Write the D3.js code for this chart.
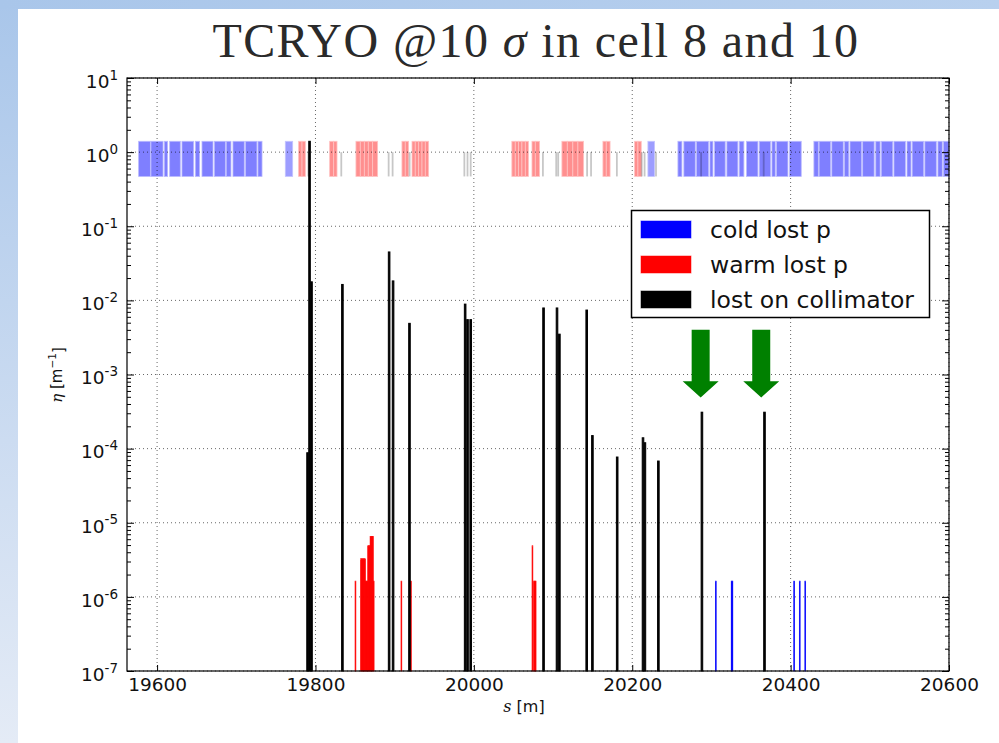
<!DOCTYPE html>
<html>
<head>
<meta charset="utf-8">
<script src="https://cdn.jsdelivr.net/npm/d3@7"></script>
<style>
  body { margin: 0; background: #fff; }
  svg { display: block; }
</style>
</head>
<body>
<svg id="chart" width="999" height="743"></svg>
<script>
// ---- lattice layout (element extents along s, metres) ----
const coldElements = [
  [19576.7,19591.5],[19592.3,19607.5],[19609.1,19613.3],[19615.9,19629.3],[19631.4,19646.2],[19648.3,19653.7],
  [19656.7,19670.6],[19672.3,19686.2],[19687.4,19693.3],[19695.8,19710.1],[19711.8,19726.1],[19727.4,19732.5],
  [20257.7,20262.7],[20265.2,20279.6],[20281.2,20296.4],[20298.1,20301.9],[20304,20317.4],[20319.5,20333.4],
  [20335.1,20341],[20344.4,20358.7],[20360.4,20374.7],[20376.4,20380.6],[20382.2,20396.6],[20398.7,20413.4],
  [20429.4,20435],[20436,20450.5],[20452,20466.5],[20468,20473.5],[20475,20489.5],[20491,20505.5],
  [20507.5,20513],[20514.5,20529],[20530.5,20545],[20547,20552],[20553.5,20568],[20569.5,20584],
  [20586,20591.5],[20593,20600]
];
const coldShortElements = [[19761.9,19771.2],[20219.8,20228.2]];
const warmElements = [
  [19778.7,19783],[19783,19787.2],
  [19817.9,19823],[19823,19827.2],
  [19851.1,19856.6],[19856.6,19861.7],[19861.7,19866.7],[19866.7,19872.2],[19872.2,19878.5],
  [19909.2,19913.4],[19913.4,19917.6],
  [19921.9,19926],[19926,19930.3],[19930.3,19934.5],[19934.5,19938.7],[19938.7,19942.9],
  [20048,20052.3],[20052.3,20056.5],[20056.5,20060.7],[20060.7,20065],[20065,20069],
  [20073.4,20077.6],[20077.6,20083],
  [20111.2,20118],[20118,20125],[20125,20131.4],[20131.4,20138.6],
  [20163,20167.2],[20167.2,20172],
  [20203,20207.2],[20207.2,20211.4]
];
const collimatorS = [19791, 19832.6, 19892.4, 19897.4, 19918.9, 19988, 19992, 19996,
  20087.2, 20104, 20106.5, 20143, 20148, 20180.6, 20212, 20215.6, 20230, 20287, 20366];

// ---- loss maps: position s [m] and local inefficiency eta [1/m] ----
const lossCollS   = [19789, 19791.5, 19794, 19833, 19892, 19897, 19917.7, 19988, 19991, 19995,
  20087, 20104, 20107, 20141.5, 20148.7, 20180, 20212.6, 20215, 20232, 20287, 20366];
const lossCollEta = [8.8e-5, 1.4, 1.78e-2, 1.64e-2, 4.5e-2, 1.83e-2, 4.9e-3, 8.9e-3, 5.5e-3, 5.5e-3,
  7.9e-3, 7.9e-3, 3.5e-3, 7.4e-3, 1.5e-4, 7.7e-5, 1.4e-4, 1.2e-4, 6.8e-5, 3.1e-4, 3.1e-4];

const lossWarmS   = [19850, 19857, 19858, 19859, 19860, 19861, 19862, 19863, 19864, 19865, 19866,
  19867, 19868, 19869, 19870, 19871, 19872, 19873, 19908, 19920, 20073.5, 20075.5, 20076.5, 20077.5];
const lossWarmEta = [1.63e-6, 3.26e-6, 3.26e-6, 3.26e-6, 3.26e-6, 3.26e-6, 3.26e-6, 1.63e-6, 1.63e-6,
  1.63e-6, 4.89e-6, 4.89e-6, 4.89e-6, 6.52e-6, 6.52e-6, 6.52e-6, 6.52e-6, 1.63e-6, 1.63e-6, 1.63e-6,
  4.89e-6, 1.63e-6, 1.63e-6, 1.63e-6];

const lossColdS   = [20305, 20325, 20326, 20404, 20411, 20418];
const lossColdEta = [1.63e-6, 1.63e-6, 1.63e-6, 1.63e-6, 1.63e-6, 1.63e-6];

// markers pointing at the TCRYO collimators
const arrowS = [20286.4, 20362.9];
const arrowTailEta = 4.0e-3, arrowHeadEta = 8.1e-4, arrowTipEta = 4.9e-4;

// ---- axes ----
const xDomain = [19562, 20600];
const xTicks = [19600, 19800, 20000, 20200, 20400, 20600];
const yExponents = [-7, -6, -5, -4, -3, -2, -1, 0, 1];
const legendLabels = ["cold lost p", "warm lost p", "lost on collimator"];
const titleParts = ["TCRYO @10 ", "σ", " in cell 8 and 10"];

// ---- geometry ----
const L = 127, R = 949, T = 78, B = 671;
const bandLow = 0.47, bandHigh = 1.4, collMarkHigh = 1.0;
const collBinW = 2.0, pBinW = 1.0;

const svg = d3.select("#chart");
const x = d3.scaleLinear().domain(xDomain).range([L, R]);
const y = d3.scaleLog().domain([1e-7, 10]).range([B, T]);

// page frame
const defs = svg.append("defs");
const g1 = defs.append("linearGradient").attr("id", "sideGrad").attr("x1", 0).attr("x2", 0).attr("y1", 0).attr("y2", 1);
g1.append("stop").attr("offset", "0").attr("stop-color", "#a9c6ea");
g1.append("stop").attr("offset", "1").attr("stop-color", "#e4ebf6");
const g2 = defs.append("linearGradient").attr("id", "topGrad").attr("x1", 0).attr("x2", 1).attr("y1", 0).attr("y2", 0);
g2.append("stop").attr("offset", "0").attr("stop-color", "#a9c6ea");
g2.append("stop").attr("offset", "1").attr("stop-color", "#b8d0ee");
svg.append("rect").attr("x", 0).attr("y", 0).attr("width", 999).attr("height", 743).attr("fill", "#fff");
svg.append("rect").attr("x", 0).attr("y", 0).attr("width", 18).attr("height", 743).attr("fill", "url(#sideGrad)");
svg.append("rect").attr("x", 0).attr("y", 0).attr("width", 999).attr("height", 9).attr("fill", "url(#topGrad)");

// title
const title = svg.append("text").attr("x", 536).attr("y", 57).attr("text-anchor", "middle")
  .attr("font-family", "Liberation Serif, serif").attr("font-size", 48).attr("letter-spacing", 1.4)
  .attr("fill", "#2a2a2a");
title.append("tspan").text(titleParts[0]);
title.append("tspan").attr("font-style", "italic").text(titleParts[1]);
title.append("tspan").text(titleParts[2]);

const plot = svg.append("g");
plot.append("rect").attr("x", L).attr("y", T).attr("width", R - L).attr("height", B - T).attr("fill", "#fff");

// lattice band
const band = plot.append("g");
band.selectAll("rect.cold").data(coldElements).join("rect")
  .attr("x", d => x(d[0])).attr("width", d => x(d[1]) - x(d[0]))
  .attr("y", y(bandHigh)).attr("height", y(bandLow) - y(bandHigh))
  .attr("fill", "#7f7fff").attr("stroke", "#b9b9ff").attr("stroke-width", 0.8);
band.selectAll("rect.coldS").data(coldShortElements).join("rect")
  .attr("x", d => x(d[0])).attr("width", d => x(d[1]) - x(d[0]))
  .attr("y", y(bandHigh)).attr("height", y(bandLow) - y(bandHigh))
  .attr("fill", "#9d9dff").attr("stroke", "#c4c4ff").attr("stroke-width", 0.8);
band.selectAll("rect.warm").data(warmElements).join("rect")
  .attr("x", d => x(d[0])).attr("width", d => x(d[1]) - x(d[0]))
  .attr("y", y(bandHigh)).attr("height", y(bandLow) - y(bandHigh))
  .attr("fill", "#ff8f8f").attr("stroke", "#ffc2c2").attr("stroke-width", 0.8);
band.selectAll("rect.coll").data(collimatorS).join("rect")
  .attr("x", d => x(d) - 0.9).attr("width", 1.8)
  .attr("y", y(collMarkHigh)).attr("height", y(bandLow) - y(collMarkHigh))
  .attr("fill", "#000").attr("fill-opacity", 0.22);

// grid
const grid = plot.append("g").attr("stroke", "#000").attr("stroke-width", 0.8)
  .attr("stroke-dasharray", "1,3").attr("stroke-opacity", 0.75);
grid.selectAll("line.gx").data(xTicks).join("line")
  .attr("x1", d => x(d)).attr("x2", d => x(d)).attr("y1", T).attr("y2", B);
grid.selectAll("line.gy").data(yExponents).join("line")
  .attr("x1", L).attr("x2", R).attr("y1", d => y(Math.pow(10, d))).attr("y2", d => y(Math.pow(10, d)));

// loss bars
function bars(sArr, vArr, w, color, sw) {
  const data = sArr.map((s, i) => ({ s, v: vArr[i] }));
  plot.append("g").selectAll("rect").data(data).join("rect")
    .attr("x", d => x(d.s)).attr("width", d => x(d.s + w) - x(d.s))
    .attr("y", d => y(d.v)).attr("height", d => y(1e-7) - y(d.v))
    .attr("fill", color).attr("stroke", color).attr("stroke-width", sw);
}
bars(lossWarmS, lossWarmEta, pBinW, "#ff0000", 0.7);
bars(lossColdS, lossColdEta, pBinW, "#0000ff", 0.7);
bars(lossCollS, lossCollEta, collBinW, "#000000", 1);

// arrows
const shaftHalf = 9, headHalf = 18;
plot.append("g").selectAll("path").data(arrowS).join("path")
  .attr("d", s => {
    const cx = x(s), yt = y(arrowTailEta), yh = y(arrowHeadEta), yp = y(arrowTipEta);
    return `M${cx - shaftHalf},${yt}L${cx + shaftHalf},${yt}L${cx + shaftHalf},${yh}L${cx + headHalf},${yh}` +
           `L${cx},${yp}L${cx - headHalf},${yh}L${cx - shaftHalf},${yh}Z`;
  })
  .attr("fill", "#008000");

// frame
plot.append("rect").attr("x", L).attr("y", T).attr("width", R - L).attr("height", B - T)
  .attr("fill", "none").attr("stroke", "#000").attr("stroke-width", 1.2);

// axes
const tickFont = "DejaVu Sans, sans-serif";
const xAxis = svg.append("g").attr("transform", `translate(0,${B})`)
  .call(d3.axisBottom(x).tickValues(xTicks).tickSize(-6).tickPadding(7).tickFormat(d3.format("d")));
xAxis.select(".domain").remove();
xAxis.selectAll("text").attr("font-family", tickFont).attr("font-size", 18.5).attr("fill", "#111");
const xTop = svg.append("g").attr("transform", `translate(0,${T})`)
  .call(d3.axisTop(x).tickValues(xTicks).tickSize(-6).tickFormat(""));
xTop.select(".domain").remove();

const majors = yExponents.map(e => Math.pow(10, e));
const minors = [];
yExponents.slice(0, -1).forEach(e => { for (let k = 2; k <= 9; k++) minors.push(k * Math.pow(10, e)); });

const yAxis = svg.append("g").attr("transform", `translate(${L},0)`)
  .call(d3.axisLeft(y).tickValues(majors).tickSize(-7).tickPadding(9).tickFormat(""));
yAxis.select(".domain").remove();
yAxis.selectAll(".tick").each(function (d) {
  const e = Math.round(Math.log10(d));
  const t = d3.select(this).append("text").attr("x", -9).attr("y", 0).attr("dy", "0.5em")
    .attr("text-anchor", "end").attr("font-family", tickFont).attr("font-size", 18.5).attr("fill", "#111");
  t.append("tspan").text("10");
  t.append("tspan").attr("dy", "-0.6em").attr("font-size", 13.5).text(String(e));
});
svg.append("g").attr("transform", `translate(${L},0)`)
  .call(d3.axisLeft(y).tickValues(minors).tickSize(-4).tickFormat("")).select(".domain").remove();
svg.append("g").attr("transform", `translate(${R},0)`)
  .call(d3.axisRight(y).tickValues(majors).tickSize(-7).tickFormat("")).select(".domain").remove();
svg.append("g").attr("transform", `translate(${R},0)`)
  .call(d3.axisRight(y).tickValues(minors).tickSize(-4).tickFormat("")).select(".domain").remove();
svg.selectAll(".tick line").attr("stroke", "#000").attr("stroke-width", 1);

// axis labels
const xl = svg.append("text").attr("x", 524).attr("y", 712).attr("text-anchor", "middle")
  .attr("font-family", tickFont).attr("font-size", 16).attr("fill", "#111");
xl.append("tspan").attr("font-family", "DejaVu Serif, serif").attr("font-style", "italic").text("s");
xl.append("tspan").text(" [m]");

const yl = svg.append("text").attr("transform", "translate(62,375) rotate(-90)").attr("text-anchor", "middle")
  .attr("font-family", tickFont).attr("font-size", 15).attr("fill", "#111");
yl.append("tspan").attr("font-family", "DejaVu Serif, serif").attr("font-style", "italic").text("η");
yl.append("tspan").text(" [m");
yl.append("tspan").attr("dy", "-0.55em").attr("font-size", 10.5).text("−1");
yl.append("tspan").attr("dy", "0.55em").text("]");

// legend
const legendColors = ["#0000ff", "#ff0000", "#000000"];
const lg = svg.append("g");
lg.append("rect").attr("x", 631.5).attr("y", 210.5).attr("width", 298).attr("height", 107)
  .attr("fill", "#fff").attr("stroke", "#000").attr("stroke-width", 1.5);
legendLabels.forEach((lab, i) => {
  const cy = 229.5 + i * 35;
  lg.append("rect").attr("x", 641).attr("y", cy - 8.5).attr("width", 50).attr("height", 17)
    .attr("fill", legendColors[i]).attr("stroke", legendColors[i]).attr("stroke-opacity", 0.5);
  lg.append("text").attr("x", 710).attr("y", cy).attr("dy", "0.36em")
    .attr("font-family", tickFont).attr("font-size", 23.5).attr("fill", "#111").text(lab);
});
</script>
</body>
</html>
